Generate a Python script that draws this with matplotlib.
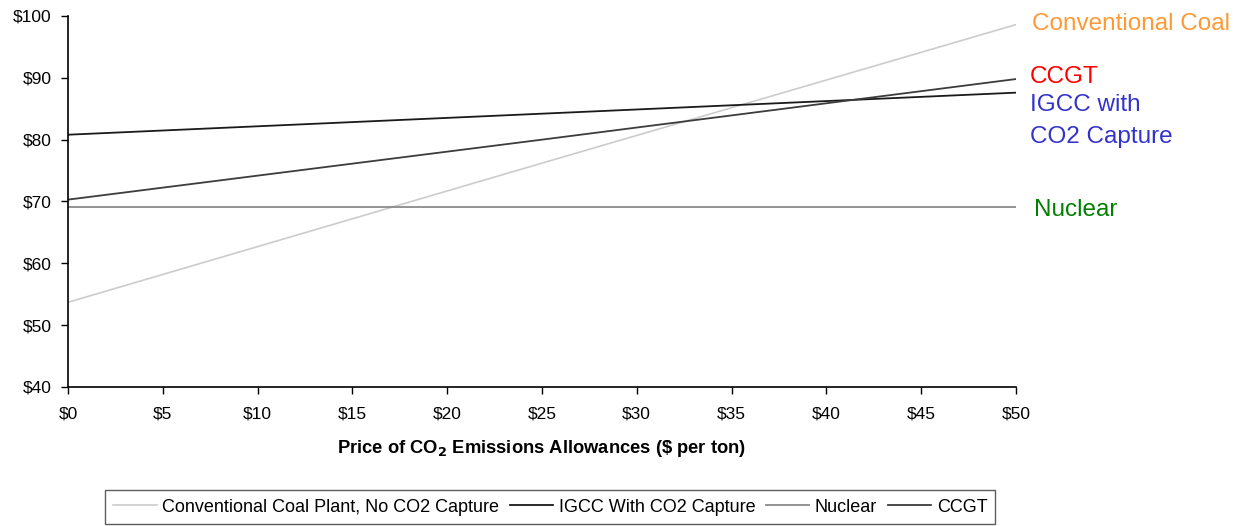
import matplotlib.pyplot as plt

plt.rcParams['font.family'] = ['Liberation Sans', 'DejaVu Sans']

# CO2 price ($ per ton) and cost of electricity ($/MWh)
co2_price = [0, 25, 50]
coal = [53.7, 76.2, 98.6]
igcc = [80.8, 84.2, 87.6]
nuclear = [69.1, 69.1, 69.1]
ccgt = [70.3, 80.0, 89.8]

y_ticks = [40, 50, 60, 70, 80, 90, 100]
x_ticks = [0, 5, 10, 15, 20, 25, 30, 35, 40, 45, 50]

fig = plt.figure(figsize=(12.48, 5.26), dpi=100)
ax = fig.add_axes([0.0545, 0.2643, 0.7595, 0.7053])

l1, = ax.plot(co2_price, coal, color='#cccccc', lw=1.2, label='Conventional Coal Plant, No CO2 Capture')
l2, = ax.plot(co2_price, igcc, color='#1a1a1a', lw=1.3, label='IGCC With CO2 Capture')
l3, = ax.plot(co2_price, nuclear, color='#8a8a8a', lw=1.3, label='Nuclear')
l4, = ax.plot(co2_price, ccgt, color='#3c3c3c', lw=1.3, label='CCGT')

ax.set_xlim(0, 50)
ax.set_ylim(40, 100)
ax.set_xticks(x_ticks)
ax.set_yticks(y_ticks)
ax.set_xticklabels(['$%d' % v for v in x_ticks])
ax.set_yticklabels(['$%d' % v for v in y_ticks])
ax.tick_params(labelsize=12.5, length=5, width=1, direction='out', color='black')
ax.tick_params(axis='x', pad=9)
ax.tick_params(axis='y', pad=7)
for s in ['top', 'right']:
    ax.spines[s].set_visible(False)
for s in ['left', 'bottom']:
    ax.spines[s].set_linewidth(1.2)

ax.set_xlabel('Price of CO$_\\mathbf{2}$ Emissions Allowances (\\$ per ton)',
              fontsize=13.2, fontweight='bold', labelpad=12)

# labels on the right side
ax.text(50.85, 98.7, 'Conventional Coal', color='#ff9933', fontsize=17.5, va='center', clip_on=False)
ax.text(50.75, 90.2, 'CCGT', color='#ff0000', fontsize=17.5, va='center', clip_on=False)
ax.text(50.75, 85.6, 'IGCC with', color='#3333cc', fontsize=17.5, va='center', clip_on=False)
ax.text(50.75, 80.5, 'CO2 Capture', color='#3333cc', fontsize=17.5, va='center', clip_on=False)
ax.text(50.95, 68.65, 'Nuclear', color='#008000', fontsize=17.5, va='center', clip_on=False)

leg = fig.legend(handles=[l1, l2, l3, l4], loc='center', bbox_to_anchor=(0.441, 0.036),
                 ncol=4, fontsize=13, frameon=True, fancybox=False, edgecolor='#333333',
                 handlelength=2.4, handletextpad=0.3, columnspacing=0.6, borderpad=0.45,
                 borderaxespad=0)
leg.get_frame().set_linewidth(1.0)

fig.savefig('out.png', dpi=100)
